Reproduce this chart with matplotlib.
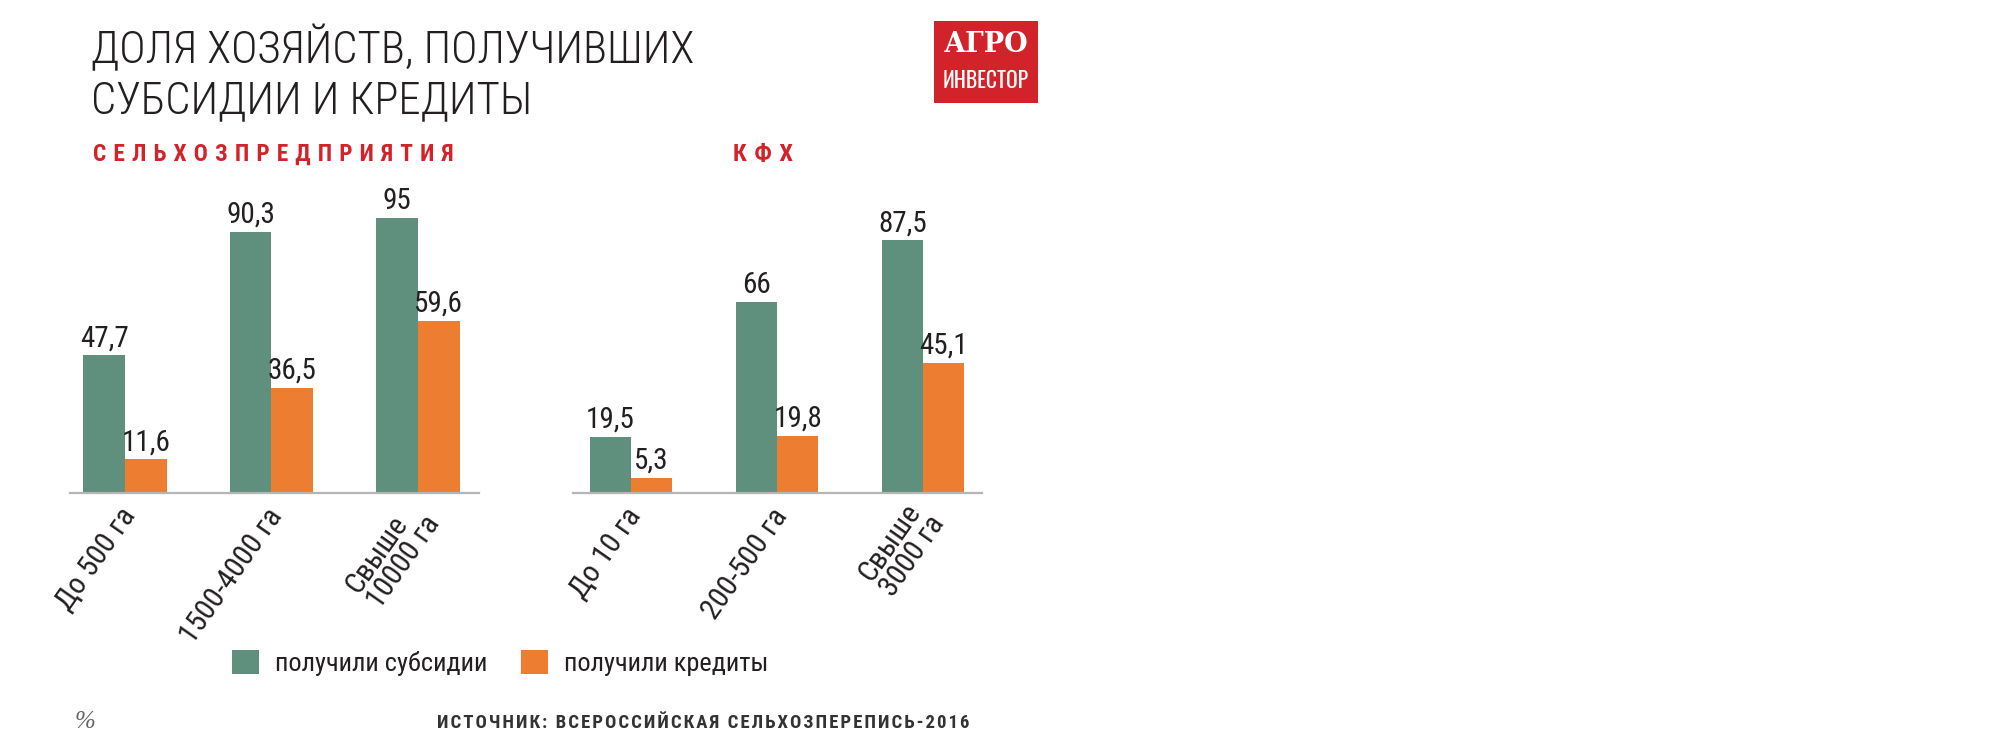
import matplotlib
matplotlib.use("Agg")
import matplotlib.pyplot as plt
import numpy as np
from matplotlib import font_manager as fm
from matplotlib.patches import Rectangle, Patch

# ---------------- data ----------------
cats_left = ['До 500 га', '1500-4000 га', 'Свыше\n10000 га']
subs_left = [47.7, 90.3, 95]
cred_left = [11.6, 36.5, 59.6]

cats_right = ['До 10 га', '200-500 га', 'Свыше\n3000 га']
subs_right = [19.5, 66, 87.5]
cred_right = [5.3, 19.8, 45.1]

series_names = ['получили субсидии', 'получили кредиты']
title_text = 'ДОЛЯ ХОЗЯЙСТВ, ПОЛУЧИВШИХ\nСУБСИДИИ И КРЕДИТЫ'
panel_titles = ['СЕЛЬХОЗПРЕДПРИЯТИЯ', 'КФХ']
source_text = 'ИСТОЧНИК: ВСЕРОССИЙСКАЯ СЕЛЬХОЗПЕРЕПИСЬ-2016'
unit_text = '%'
logo_lines = ['АГРО', 'ИНВЕСТОР']

# ---------------- fonts ----------------
ENTRIES = {(f.name, int(f.weight) if str(f.weight).isdigit() else f.weight)
           for f in fm.fontManager.ttflist}
NAMES = {e[0] for e in ENTRIES}

def pick(cands, default='DejaVu Sans'):
    for c in cands:
        if c in NAMES:
            return c
    return default

COND = pick(['Roboto Condensed', 'Fira Sans Condensed', 'PT Sans Narrow', 'Liberation Sans'])
if (COND, 300) in ENTRIES:
    TITLE_FONT, TITLE_W = COND, 300
elif ('Fira Sans Condensed', 300) in ENTRIES:
    TITLE_FONT, TITLE_W = 'Fira Sans Condensed', 300
else:
    TITLE_FONT, TITLE_W = COND, 'normal'
SLAB = pick(['Roboto Slab', 'Zilla Slab', 'PT Serif', 'Liberation Serif'])
TALL = pick(['Oswald', 'Fira Sans Extra Condensed', 'Fira Sans Condensed', COND])
SERIF = pick(['Liberation Serif', 'DejaVu Serif'])

FAM = [COND, 'DejaVu Sans']
plt.rcParams['font.family'] = FAM

GREEN = '#5f8f7d'
ORANGE = '#ec7d31'
RED = '#d2232a'
DARK = '#231f20'
AXIS = '#b5b5b5'

W, H = 2000, 750
fig = plt.figure(figsize=(20, 7.5), dpi=100)
fig.patch.set_facecolor('white')
renderer = fig.canvas.get_renderer()

def fx(x):
    return x / W

def fy(y):
    return 1 - y / H

def fit_width(t, target_px):
    bb = t.get_window_extent(renderer=renderer)
    if bb.width > 0:
        t.set_fontsize(t.get_fontsize() * target_px / bb.width)

def fit_spaced(x_px, y_px, s, target_w, fs, **kw):
    """Letter-spaced text: choose the space character that gives the closest
    width, then fine-tune the size to the target width."""
    best = None
    for sep in ['\u200a', '\u2009', '\u2006', '\u2005', '\u2004', ' ', '\u2002']:
        t = fig.text(fx(x_px), fy(y_px), sep.join(s), fontsize=fs, **kw)
        w = t.get_window_extent(renderer=renderer).width
        t.remove()
        if best is None or abs(w - target_w) < abs(best[1] - target_w):
            best = (sep, w)
    return fig.text(fx(x_px), fy(y_px), best[0].join(s),
                    fontsize=fs * target_w / best[1], **kw)

BASE = 493
PX_PER_UNIT = 2.89
YTOP = 100
ax_h = YTOP * PX_PER_UNIT

def fmt(v):
    return f'{v:g}'.replace('.', ',')

def panel(left_px, right_px, xlim, cats, subs, cred):
    ax = fig.add_axes([fx(left_px), fy(BASE), (right_px - left_px) / W, ax_h / H])
    x = np.arange(len(cats))
    w = 0.284
    b1 = ax.bar(x - w / 2, subs, w, color=GREEN, linewidth=0)
    b2 = ax.bar(x + w / 2, cred, w, color=ORANGE, linewidth=0)
    ax.set_xlim(*xlim)
    ax.set_ylim(0, YTOP)
    for s in ['top', 'left', 'right']:
        ax.spines[s].set_visible(False)
    ax.spines['bottom'].set_color(AXIS)
    ax.spines['bottom'].set_linewidth(1.6)
    ax.set_yticks([])
    ax.set_xticks([])
    for bars, vals in ((b1, subs), (b2, cred)):
        for r, v in zip(bars, vals):
            ax.annotate(fmt(v), (r.get_x() + r.get_width() / 2, v),
                        xytext=(0, 6.5), textcoords='offset points',
                        ha='center', va='baseline', fontsize=21, color=DARK,
                        annotation_clip=False)
    for i, c in enumerate(cats):
        ax.annotate(c, (x[i], 0), xycoords=('data', 'data'),
                    xytext=(3.5, -13), textcoords='offset points',
                    ha='right', va='center', rotation=55, rotation_mode='anchor',
                    multialignment='left', linespacing=0.95,
                    fontsize=21.5, color=DARK, annotation_clip=False)
    ax.set_facecolor('none')
    return ax

panel(70, 479, (-0.375, 2.416), cats_left, subs_left, cred_left)
panel(573, 982, (-0.397, 2.404), cats_right, subs_right, cred_right)

# title
fig.text(fx(91), fy(113), title_text, fontsize=32.2, color=DARK, va='baseline',
         ha='left', linespacing=1.22, family=[TITLE_FONT, 'DejaVu Sans'],
         fontweight=TITLE_W)

# panel headers (letter-spaced)
fit_spaced(93, 161, panel_titles[0], 362, 17, fontweight='bold', color=RED,
           va='baseline')
fit_spaced(733, 161, panel_titles[1], 60, 17, fontweight='bold', color=RED,
           va='baseline')

# logo
fig.patches.append(Rectangle((fx(934), fy(103)), (1038 - 934) / W, (103 - 21) / H,
                             transform=fig.transFigure, facecolor=RED, edgecolor='none'))
t1 = fig.text(fx(986), fy(52), logo_lines[0], fontsize=23, fontweight='bold',
              family=[SLAB, 'DejaVu Serif'], color='white', ha='center', va='baseline')
fit_width(t1, 85)
t2 = fig.text(fx(986), fy(88), logo_lines[1], fontsize=20, fontweight='bold',
              family=[TALL, 'DejaVu Sans'], color='white', ha='center', va='baseline')
fit_width(t2, 86)

# legend
handles = [Patch(facecolor=GREEN, edgecolor='none'), Patch(facecolor=ORANGE, edgecolor='none')]
fig.legend(handles, series_names, loc='center left',
           bbox_to_anchor=(fx(232), fy(663)), ncol=2, frameon=False,
           fontsize=19, handlelength=1.02, handleheight=1.02,
           handletextpad=0.6, columnspacing=1.3, borderpad=0, borderaxespad=0,
           labelcolor=DARK)

# unit and source
fig.text(fx(75), fy(728), unit_text, fontsize=18, color='#666666',
         family=[SERIF, 'DejaVu Serif'], style='italic', va='baseline')
fit_spaced(437, 728, source_text, 528, 13, fontweight='bold', color='#333333',
           va='baseline')

fig.savefig('out.png', dpi=100, facecolor='white')
